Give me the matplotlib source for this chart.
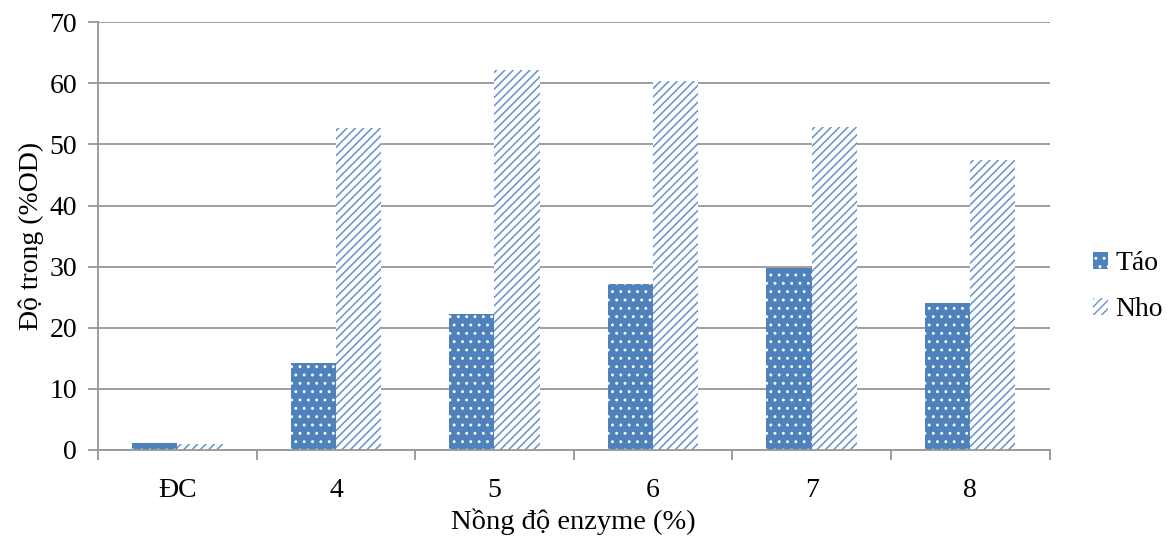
import numpy as np
import matplotlib as mpl
import matplotlib.pyplot as plt

plt.rcParams['font.family'] = ['Liberation Serif', 'DejaVu Serif']

categories = ['ĐC', '4', '5', '6', '7', '8']
tao = [1.1, 14.3, 22.3, 27.1, 29.8, 24.1]
nho = [0.9, 52.6, 62.1, 60.4, 52.9, 47.5]

blue = '#4F81BD'
grid_c = '#969696'

fig = plt.figure(figsize=(11.74, 5.4), dpi=100)
ax = fig.add_axes([0.0835, 0.1667, 0.8105, 0.7923])

x = np.arange(len(categories))
w = 0.285
with mpl.rc_context({'hatch.linewidth': 0.9}):
    ax.bar(x - w / 2, tao, w, color=blue, edgecolor='white', hatch='..', linewidth=0, label='Táo')
with mpl.rc_context({'hatch.linewidth': 1.1}):
    ax.bar(x + w / 2, nho, w, color='white', edgecolor='#6592CF', hatch='////', linewidth=0, label='Nho')

ax.set_xlim(-0.5, len(categories) - 0.5)
ax.set_ylim(0, 70)
ax.set_yticks(np.arange(0, 71, 10))
ax.yaxis.grid(True, color=grid_c, linewidth=1.3)
ax.set_axisbelow(True)

ax.set_xticks(np.arange(-0.5, len(categories), 1))
ax.set_xticklabels([])
ax.set_xticks(x, minor=True)
ax.set_xticklabels(categories, minor=True)
ax.tick_params(axis='x', which='minor', length=0, pad=20, labelsize=20)
ax.tick_params(axis='x', which='major', length=7, color=grid_c, width=1.3)
ax.tick_params(axis='y', length=7, color=grid_c, width=1.3, labelsize=20, pad=8)

for s in ['top', 'right']:
    ax.spines[s].set_visible(False)
for s in ['left', 'bottom']:
    ax.spines[s].set_color(grid_c)
    ax.spines[s].set_linewidth(1.3)

ax.set_xlabel('Nồng độ enzyme (%)', fontsize=20.5, labelpad=4)
ax.set_ylabel('Độ trong (%OD)', fontsize=20, labelpad=4)

ax.legend(loc='center left', bbox_to_anchor=(1.025, 0.382), frameon=False, fontsize=20,
          handlelength=0.55, handleheight=0.55, handletextpad=0.25, labelspacing=0.75,
          borderaxespad=0.3)

fig.savefig('out.png', dpi=100)
